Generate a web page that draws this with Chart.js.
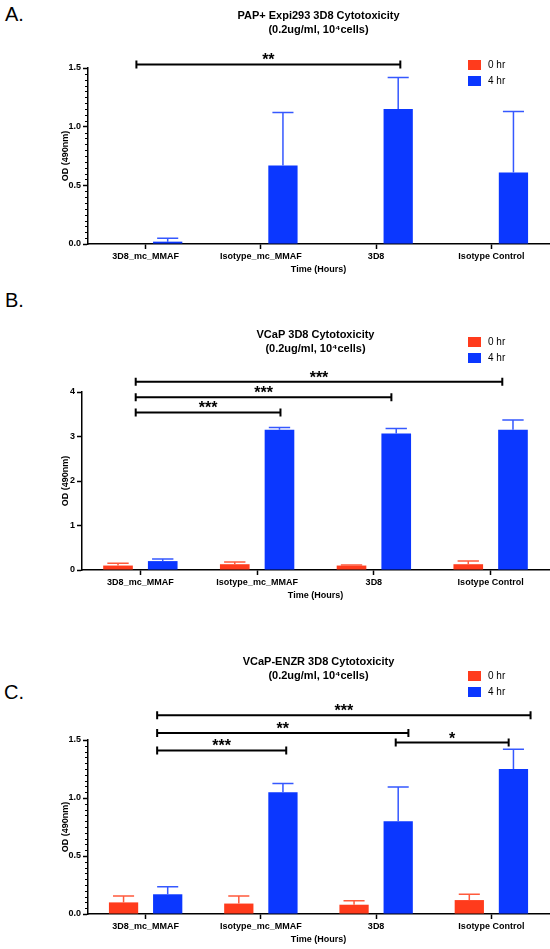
<!DOCTYPE html>
<html>
<head>
<meta charset="utf-8">
<script src="https://cdn.jsdelivr.net/npm/chart.js@4/dist/chart.umd.min.js"></script>
<style>
	body { margin: 0; background: #fff; }
	#page { position: relative; width: 550px; height: 949px; overflow: hidden; }
	canvas { position: absolute; left: 0; }
	.tag { position: absolute; font: 20px/20px "Liberation Sans", Arial, sans-serif; color: #000; }
</style>
</head>
<body>
<div id="page">
	<div class="tag" style="left:5px; top:4px;">A.</div>
	<div class="tag" style="left:5px; top:290px;">B.</div>
	<div class="tag" style="left:4px; top:682px;">C.</div>
	<canvas id="chartA" width="550" height="285" style="top:0px; width:550px; height:285px;"></canvas>
	<canvas id="chartB" width="550" height="315" style="top:290px; width:550px; height:315px;"></canvas>
	<canvas id="chartC" width="550" height="324" style="top:625px; width:550px; height:324px;"></canvas>
</div>
<script>
var categories = ['3D8_mc_MMAF', 'Isotype_mc_MMAF', '3D8', 'Isotype Control'];
var seriesNames = ['0 hr', '4 hr'];

// A. PAP+ Expi293
var titleA = ['PAP+ Expi293 3D8 Cytotoxicity', '(0.2ug/ml, 10\u2074cells)'];
var zeroA = [0, 0, 0, 0];
var zeroSdA = [0, 0, 0, 0];
var fourA = [0.02, 0.67, 1.15, 0.61];
var fourSdA = [0.03, 0.45, 0.27, 0.52];
var bracketsA = [
	{from: -0.08, to: 2.21, y: 1.53, label: '**'}
];

// B. VCaP
var titleB = ['VCaP 3D8 Cytotoxicity', '(0.2ug/ml, 10\u2074cells)'];
var zeroB = [0.10, 0.13, 0.10, 0.13];
var zeroSdB = [0.05, 0.05, 0.01, 0.07];
var fourB = [0.20, 3.15, 3.07, 3.15];
var fourSdB = [0.05, 0.05, 0.11, 0.22];
var bracketsB = [
	{from: -0.04, to: 1.20, y: 3.54, label: '***'},
	{from: -0.04, to: 2.15, y: 3.88, label: '***'},
	{from: -0.04, to: 3.10, y: 4.23, label: '***'}
];

// C. VCaP-ENZR
var titleC = ['VCaP-ENZR 3D8 Cytotoxicity', '(0.2ug/ml, 10\u2074cells)'];
var zeroC = [0.10, 0.09, 0.08, 0.12];
var zeroSdC = [0.055, 0.065, 0.035, 0.05];
var fourC = [0.17, 1.05, 0.80, 1.25];
var fourSdC = [0.065, 0.075, 0.295, 0.17];
var bracketsC = [
	{from: 0.10, to: 1.22, y: 1.41, label: '***'},
	{from: 0.10, to: 2.28, y: 1.56, label: '**'},
	{from: 0.10, to: 3.34, y: 1.713, label: '***'},
	{from: 2.17, to: 3.15, y: 1.478, label: '*'}
];

var FONT = '"Liberation Sans", Arial, sans-serif';
var RED = '#ff3b1c', RED_ERR = '#ff5a3c';
var BLUE = '#0b37ff', BLUE_ERR = '#3558ff';

// error bars, minor ticks, significance brackets and the legend
var extras = {
	id: 'extras',
	afterDatasetsDraw: function (chart, args, opts)
	{
		var ctx = chart.ctx, xs = chart.scales.x, ys = chart.scales.y, area = chart.chartArea;
		ctx.save();

		chart.data.datasets.forEach(function (ds, di)
		{
			chart.getDatasetMeta(di).data.forEach(function (bar, i)
			{
				var sd = ds.sd[i];
				if (!sd)
					return;
				var top = ys.getPixelForValue(ds.data[i] + sd);
				var half = bar.width * 0.36;
				ctx.strokeStyle = ds.errColor;
				ctx.lineWidth = 1.5;
				ctx.beginPath();
				ctx.moveTo(bar.x, bar.y);
				ctx.lineTo(bar.x, top);
				ctx.moveTo(bar.x - half, top);
				ctx.lineTo(bar.x + half, top);
				ctx.stroke();
			});
		});

		if (opts.minor)
		{
			ctx.strokeStyle = '#000';
			ctx.lineWidth = 1;
			var n = Math.round(ys.max / opts.minor);
			for (var k = 1; k < n; k++)
			{
				if (k % opts.every === 0)
					continue;
				var py = Math.round(ys.getPixelForValue(k * opts.minor)) + 0.5;
				ctx.beginPath();
				ctx.moveTo(area.left - 3, py);
				ctx.lineTo(area.left, py);
				ctx.stroke();
			}
		}

		ctx.strokeStyle = '#000';
		ctx.fillStyle = '#000';
		ctx.lineWidth = 2;
		ctx.textAlign = 'center';
		ctx.textBaseline = 'alphabetic';
		ctx.font = 'bold 16px ' + FONT;
		opts.brackets.forEach(function (b)
		{
			var x0 = xs.getPixelForValue(b.from), x1 = xs.getPixelForValue(b.to);
			var py = ys.getPixelForValue(b.y);
			ctx.beginPath();
			ctx.moveTo(x0, py);
			ctx.lineTo(x1, py);
			ctx.moveTo(x0, py - 4);
			ctx.lineTo(x0, py + 4);
			ctx.moveTo(x1, py - 4);
			ctx.lineTo(x1, py + 4);
			ctx.stroke();
			ctx.fillText(b.label, (x0 + x1) / 2, py + 1);
		});

		ctx.textAlign = 'left';
		ctx.textBaseline = 'middle';
		ctx.font = '10px ' + FONT;
		chart.data.datasets.forEach(function (ds, di)
		{
			var ly = opts.legend.y + di * 16;
			ctx.fillStyle = ds.backgroundColor;
			ctx.fillRect(opts.legend.x, ly - 5, 13, 10);
			ctx.fillStyle = '#000';
			ctx.fillText(ds.label, opts.legend.x + 20, ly);
		});

		ctx.restore();
	}
};

function panel(id, p)
{
	return new Chart(document.getElementById(id), {
		type: 'bar',
		data: {
			labels: categories,
			datasets: [
				{label: seriesNames[0], data: p.zero, sd: p.zeroSd, backgroundColor: RED, errColor: RED_ERR,
					categoryPercentage: 0.766, barPercentage: 0.663},
				{label: seriesNames[1], data: p.four, sd: p.fourSd, backgroundColor: BLUE, errColor: BLUE_ERR,
					categoryPercentage: 0.766, barPercentage: 0.663}
			]
		},
		options: {
			responsive: false,
			animation: false,
			layout: {padding: {left: 0, right: 1, top: 0, bottom: p.padBottom}},
			plugins: {
				legend: {display: false},
				tooltip: {enabled: false},
				title: {
					display: true, text: p.title, fullSize: false, color: '#000',
					font: {family: FONT, size: 11, weight: 'bold', lineHeight: 1.3},
					padding: {top: p.titleTop, bottom: p.titleBottom}
				},
				extras: {brackets: p.brackets, minor: p.minor, every: p.every, legend: p.legend}
			},
			scales: {
				x: {
					grid: {display: true, drawOnChartArea: false, drawTicks: true, tickLength: 5,
						tickColor: '#000', tickWidth: 1.5, offset: false},
					border: {color: '#000', width: 1.5},
					ticks: {color: '#000', padding: 2, maxRotation: 0, autoSkip: false,
						font: {family: FONT, size: 9, weight: 'bold'}},
					title: {display: true, text: 'Time (Hours)', color: '#000', padding: {top: 0, bottom: 0},
						font: {family: FONT, size: 9, weight: 'bold'}},
					afterFit: function (s) { s.height = 31; }
				},
				y: {
					min: 0, max: p.max,
					grid: {display: true, drawOnChartArea: false, drawTicks: true, tickLength: 5,
						tickColor: '#000', tickWidth: 1.5},
					border: {color: '#000', width: 1.5},
					ticks: {color: '#000', padding: 2, stepSize: p.step,
						font: {family: FONT, size: 9, weight: 'bold'},
						callback: function (v) { return v.toFixed(p.decimals); }},
					title: {display: true, text: 'OD (490nm)', color: '#000', padding: {top: 60.6, bottom: 0},
						font: {family: FONT, size: 9, weight: 'bold'}},
					afterFit: function (s) { s.width = p.left; }
				}
			}
		},
		plugins: [extras]
	});
}

panel('chartA', {
	title: titleA, zero: zeroA, zeroSd: zeroSdA, four: fourA, fourSd: fourSdA, brackets: bracketsA,
	max: 1.5, step: 0.5, decimals: 1, minor: 0.05, every: 10,
	left: 88, padBottom: 10, titleTop: 9, titleBottom: 30.4, legend: {x: 468, y: 65}
});

panel('chartB', {
	title: titleB, zero: zeroB, zeroSd: zeroSdB, four: fourB, fourSd: fourSdB, brackets: bracketsB,
	max: 4, step: 1, decimals: 0, minor: 0, every: 1,
	left: 82, padBottom: 4, titleTop: 38, titleBottom: 35.4, legend: {x: 468, y: 52}
});

panel('chartC', {
	title: titleC, zero: zeroC, zeroSd: zeroSdC, four: fourC, fourSd: fourSdC, brackets: bracketsC,
	max: 1.5, step: 0.5, decimals: 1, minor: 0.05, every: 10,
	left: 88, padBottom: 4, titleTop: 30, titleBottom: 56.4, legend: {x: 468, y: 51}
});
</script>
</body>
</html>
